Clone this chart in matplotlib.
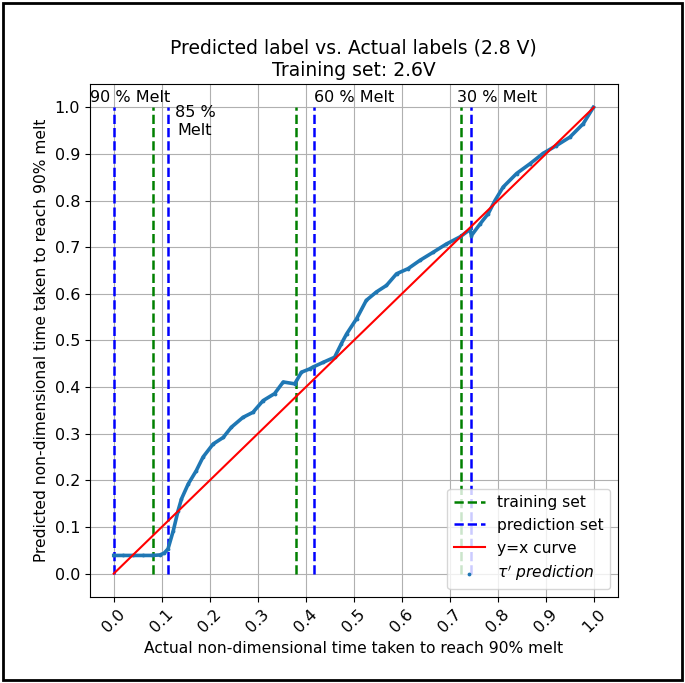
import numpy as np
import matplotlib
matplotlib.use("Agg")
import matplotlib.pyplot as plt
from matplotlib.patches import Rectangle

actual = [0.0, 0.02, 0.04, 0.06, 0.08, 0.096, 0.105, 0.113, 0.124, 0.134, 0.141,
          0.155, 0.172, 0.186, 0.207, 0.228, 0.245, 0.269, 0.290, 0.311, 0.335,
          0.353, 0.377, 0.391, 0.408, 0.415, 0.436, 0.460, 0.474, 0.485, 0.506,
          0.526, 0.547, 0.568, 0.589, 0.613, 0.638, 0.665, 0.693, 0.721, 0.742,
          0.745, 0.763, 0.780, 0.794, 0.811, 0.839, 0.867, 0.894, 0.922, 0.950,
          0.978, 0.999]
predicted = [0.039, 0.039, 0.039, 0.039, 0.039, 0.040, 0.044, 0.053, 0.092, 0.135, 0.160,
             0.192, 0.221, 0.250, 0.278, 0.292, 0.314, 0.335, 0.346, 0.371, 0.386,
             0.411, 0.407, 0.432, 0.439, 0.443, 0.453, 0.464, 0.493, 0.514, 0.547,
             0.586, 0.604, 0.618, 0.643, 0.654, 0.672, 0.689, 0.707, 0.722, 0.738,
             0.725, 0.750, 0.772, 0.800, 0.829, 0.858, 0.879, 0.901, 0.918, 0.936,
             0.965, 1.0]

train_lines = [0.081, 0.379, 0.723]
pred_lines = [0.0, 0.1125, 0.417, 0.744]

melt_labels = ["90 % Melt", "85 %\nMelt", "60 % Melt", "30 % Melt"]
melt_x = [-0.05, 0.127, 0.417, 0.715]
melt_y = [1.021, 0.97, 1.021, 1.021]

fig = plt.figure(figsize=(6.85, 6.83), dpi=100)
ax = fig.add_axes([0.131, 0.126, 0.771, 0.751])

ax.vlines(train_lines, 0, 1, colors="green", linestyles="--", linewidth=1.8, label="training set")
ax.vlines(pred_lines, 0, 1, colors="blue", linestyles="--", linewidth=1.8, label="prediction set")
ax.plot([0, 1], [0, 1], color="red", linewidth=1.5, label="y=x curve", zorder=4)
ax.plot(actual, predicted, color="#1f77b4", linewidth=2.6, zorder=3)
ax.scatter(actual, predicted, s=3, color="#1f77b4", label=r"$\tau'$ $prediction$", zorder=3)

for lab, tx, ty in zip(melt_labels, melt_x, melt_y):
    ax.text(tx, ty, lab, ha="left", va="center", fontsize=11.5, multialignment="center")

ax.set_xlim(-0.05, 1.05)
ax.set_ylim(-0.05, 1.05)
ax.set_xticks(np.arange(0, 1.01, 0.1))
ax.set_yticks(np.arange(0, 1.01, 0.1))
ax.tick_params(axis="x", labelrotation=45)
ax.tick_params(labelsize=11.5)
ax.grid(True)

ax.set_title("Predicted label vs. Actual labels (2.8 V)\nTraining set: 2.6V", fontsize=13.5)
ax.set_xlabel("Actual non-dimensional time taken to reach 90% melt", fontsize=11.2)
ax.set_ylabel("Predicted non-dimensional time taken to reach 90% melt", fontsize=11.2)
ax.legend(loc="lower right", fontsize=11.2)

fig.patches.append(Rectangle((0.005, 0.005), 0.99, 0.99, transform=fig.transFigure,
                             fill=False, edgecolor="black", linewidth=2))

fig.savefig("out.png", dpi=100)
